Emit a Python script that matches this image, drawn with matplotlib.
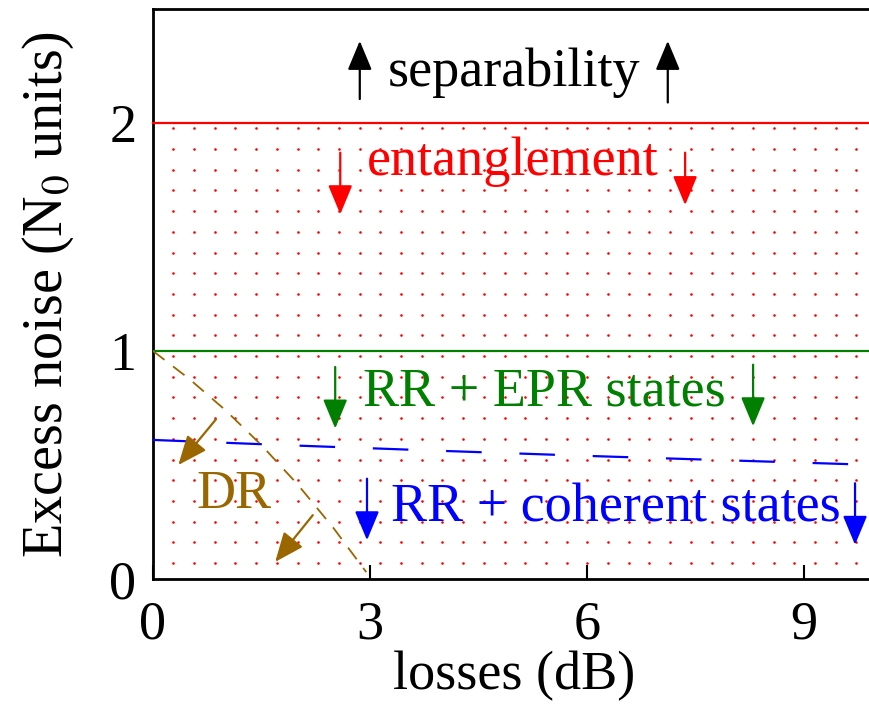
import numpy as np
import matplotlib
matplotlib.use('Agg')
import matplotlib.pyplot as plt

plt.rcParams['font.family'] = 'serif'
plt.rcParams['font.serif'] = ['Liberation Serif', 'Times New Roman', 'DejaVu Serif']
plt.rcParams['mathtext.fontset'] = 'stix'

# ── data ─────────────────────────────────────────────────────
ent_limit = 2.0           # entanglement bound (N0 units)
epr_limit = 1.0           # RR + EPR bound
x_range = [0, 10]

# RR + coherent states bound
coh_x = [0, 2, 4, 6, 8, 10]
coh_y = [0.61, 0.585, 0.562, 0.54, 0.52, 0.50]

# DR bound
dr_x = [0, 0.5, 1.0, 1.5, 2.0, 2.5, 2.95]
dr_y = [1.0, 0.878, 0.741, 0.587, 0.415, 0.222, 0.03]

x_ticks = [0, 3, 6, 9]
y_ticks = [0, 1, 2]

FS = 39
brown = '#996600'
green = '#007f00'

fig = plt.figure(figsize=(8.7, 7.07), dpi=100)
ax = fig.add_axes([153 / 870, 1 - 579 / 707, 723 / 870, 570 / 707])
ax.set_xlim(0, 10)
ax.set_ylim(0, 2.5)

# dotted fill pattern of the entanglement region
gx, gy = np.meshgrid(np.arange(0.281, 10, 0.2863), 0.070 + 0.0908 * np.arange(22))
ax.scatter(gx.ravel(), gy.ravel(), s=3.5, color='red', marker='o', lw=0, zorder=1)

ax.plot(x_range, [ent_limit] * 2, color='red', lw=1.6, zorder=3, clip_on=False)
ax.plot(x_range, [epr_limit] * 2, color=green, lw=1.6, zorder=3)
ax.plot(coh_x, coh_y, color='blue', lw=1.6, dashes=(16, 17), zorder=3)
ax.plot(dr_x, dr_y, color=brown, lw=1.3, dashes=(8, 6), zorder=3)


def arrow(tail, tip, color):
    ax.annotate('', xy=tip, xytext=tail,
                arrowprops=dict(arrowstyle='-|>,head_length=0.6,head_width=0.25',
                                color=color, lw=1.6, mutation_scale=30,
                                shrinkA=0, shrinkB=0), zorder=4)


# separability
arrow((2.86, 2.105), (2.86, 2.36), 'black')
arrow((7.12, 2.09), (7.12, 2.36), 'black')
ax.text(4.99, 2.22, 'separability', fontsize=FS, ha='center', va='center')

# entanglement
arrow((2.59, 1.87), (2.59, 1.6), 'red')
arrow((7.36, 1.87), (7.36, 1.64), 'red')
ax.text(4.98, 1.83, 'entanglement', fontsize=FS, ha='center', va='center', color='red')

# RR + EPR
arrow((2.52, 0.93), (2.52, 0.66), green)
arrow((8.3, 0.94), (8.3, 0.67), green)
ax.text(5.42, 0.82, 'RR + EPR states', fontsize=FS, ha='center', va='center', color=green)

# RR + coherent
arrow((2.96, 0.44), (2.96, 0.17), 'blue')
arrow((9.71, 0.42), (9.71, 0.15), 'blue')
ax.text(6.4, 0.31, 'RR + coherent states', fontsize=FS, ha='center', va='center', color='blue')

# DR
arrow((0.87, 0.70), (0.35, 0.50), brown)
arrow((2.21, 0.28), (1.69, 0.075), brown)
ax.text(1.12, 0.37, 'DR', fontsize=FS, ha='center', va='center', color=brown)

ax.set_xticks(x_ticks)
ax.set_yticks(y_ticks)
ax.tick_params(direction='in', length=10, width=1.5, labelsize=FS)
ax.tick_params(axis='x', pad=15)
ax.tick_params(axis='y', length=0, pad=12)
for s in ['left', 'bottom', 'top']:
    ax.spines[s].set_linewidth(2)
ax.spines['right'].set_visible(False)

ax.set_xlabel('losses (dB)', fontsize=FS, labelpad=0)
ax.set_ylabel('Excess noise (N$_0$ units)', fontsize=40.5, labelpad=24)

fig.savefig('out.png', dpi=100)
